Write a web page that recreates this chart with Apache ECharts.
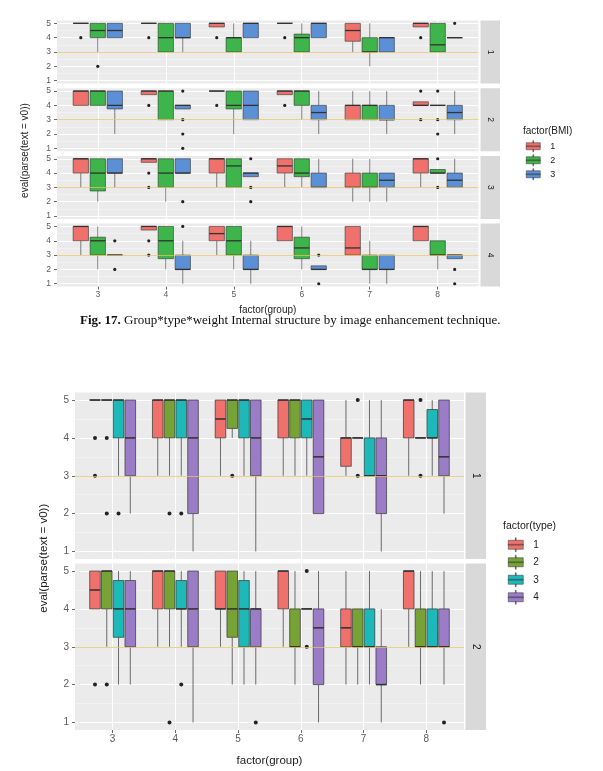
<!DOCTYPE html>
<html>
<head>
<meta charset="utf-8">
<title>Fig. 17</title>
<script src="https://cdn.jsdelivr.net/npm/echarts@6/dist/echarts.min.js"></script>
<style>
  html, body { margin: 0; padding: 0; background: #fff; }
  #chart { width: 603px; height: 771px; }
</style>
</head>
<body>
<div id="chart"></div>
<script>
// x categories, factor(group)
const groups = ['3', '4', '5', '6', '7', '8'];
const yTicks = [1, 2, 3, 4, 5];
const refValue = 3;

// ---- top figure: factor(BMI), 4 facets ----
const bmiNames = ['1', '2', '3'];
const bmiColors = ['#F0716C', '#3DB54A', '#5B8FD6'];
const bmiFacets = ['1', '2', '3', '4'];

// boxes per group: [min, q1, median, q3, max]
const bmiBox1 = [
  [[5, 5, 5, 5, 5], [5, 5, 5, 5, 5], [4.75, 4.75, 5, 5, 5], [5, 5, 5, 5, 5], [3, 3.75, 4.5, 5, 5], [4.75, 4.75, 5, 5, 5]],
  [[3, 4, 4.5, 5, 5], [3, 3, 4, 5, 5], [3, 3, 4, 4, 5], [3, 3, 4, 4.25, 5], [2, 3, 3, 4, 5], [3, 3, 3.5, 5, 5]],
  [[4, 4, 4.5, 5, 5], [3, 4, 4, 5, 5], [4, 4, 5, 5, 5], [4, 4, 5, 5, 5], [3, 3, 4, 4, 4], [4, 4, 4, 4, 4]]
];
const bmiBox2 = [
  [[4, 4, 5, 5, 5], [4.75, 4.75, 5, 5, 5], [5, 5, 5, 5, 5], [4.75, 4.75, 5, 5, 5], [3, 3, 4, 4, 5], [4, 4, 4, 4.25, 4.25]],
  [[4, 4, 5, 5, 5], [3, 3, 5, 5, 5], [2, 3.75, 4, 5, 5], [3, 4, 5, 5, 5], [3, 3, 4, 4, 5], [4, 4, 4, 4, 4]],
  [[2, 3.75, 4, 5, 5], [3.75, 3.75, 4, 4, 4], [3, 3, 4, 5, 5], [2, 3, 3.5, 4, 5], [2, 3, 3, 4, 5], [2, 3, 3.5, 4, 5]]
];
const bmiBox3 = [
  [[3, 4, 5, 5, 5], [4.75, 4.75, 5, 5, 5], [3, 4, 5, 5, 5], [3, 4, 4.5, 5, 5], [2, 3, 3, 4, 5], [3, 4, 5, 5, 5]],
  [[2, 2.75, 4, 5, 5], [2, 3, 4, 5, 5], [3, 3, 4.5, 5, 5], [3, 3.75, 4, 5, 5], [2, 3, 3, 4, 5], [4, 4, 4, 4.25, 4.25]],
  [[3, 4, 4, 5, 5], [4, 4, 4, 5, 5], [3.75, 3.75, 4, 4, 4], [3, 3, 3, 4, 5], [2, 3, 3.5, 4, 4], [3, 3, 3.5, 4, 5]]
];
const bmiBox4 = [
  [[3, 4, 5, 5, 5], [4.75, 4.75, 5, 5, 5], [3, 4, 4.5, 5, 5], [4, 4, 5, 5, 5], [3, 3, 3.5, 5, 5], [4, 4, 5, 5, 5]],
  [[2, 3, 4, 4.25, 5], [2, 2.75, 4, 5, 5], [2, 3, 4, 5, 5], [2, 2.75, 3.5, 4.25, 5], [1, 2, 2, 3, 4], [2, 3, 3, 4, 4]],
  [[3, 3, 3, 3, 3], [1, 2, 2, 3, 4], [1, 2, 2, 3, 4], [2, 2, 2, 2.25, 2.25], [1, 2, 2, 3, 3], [2.75, 2.75, 3, 3, 3]]
];
// outliers: [group index, value]
const bmiOut1 = [[[0, 4], [1, 4], [2, 4], [3, 4], [5, 4]], [[0, 2]], [[5, 5]]];
const bmiOut2 = [[[1, 4], [2, 4], [3, 4], [5, 5], [5, 3]], [[5, 5], [5, 3], [5, 2]], [[1, 5], [1, 3], [1, 2], [1, 1]]];
const bmiOut3 = [[[1, 4], [1, 3]], [[5, 5], [5, 3]], [[1, 2], [2, 5], [2, 3], [2, 2]]];
const bmiOut4 = [[[1, 4], [1, 3]], [], [[0, 4], [0, 2], [1, 5], [3, 3], [3, 1], [5, 2], [5, 1]]];

// ---- bottom figure: factor(type), 2 facets ----
const typeNames = ['1', '2', '3', '4'];
const typeColors = ['#F0716C', '#77A336', '#1DB9B9', '#9B7DC7'];
const typeFacets = ['1', '2'];

const typeBox1 = [
  [[5, 5, 5, 5, 5], [3, 4, 5, 5, 5], [3, 4, 4.5, 5, 5], [3, 4, 5, 5, 5], [3, 3.25, 4, 4, 5], [3, 4, 5, 5, 5]],
  [[5, 5, 5, 5, 5], [3, 4, 5, 5, 5], [4, 4.25, 5, 5, 5], [3, 4, 5, 5, 5], [4, 4, 4, 4, 4], [4, 4, 4, 4, 4]],
  [[3, 4, 5, 5, 5], [3, 4, 5, 5, 5], [3, 4, 5, 5, 5], [3, 4, 4.5, 5, 5], [3, 3, 3, 4, 5], [3, 4, 4, 4.75, 5]],
  [[2, 3, 4, 5, 5], [1, 2, 4, 5, 5], [1, 3, 4, 5, 5], [2, 2, 3.5, 5, 5], [1, 2, 3, 4, 5], [2, 3, 3.5, 5, 5]]
];
const typeBox2 = [
  [[4, 4, 4.5, 5, 5], [3, 4, 5, 5, 5], [3, 4, 4, 5, 5], [3, 4, 5, 5, 5], [2, 3, 3.5, 4, 5], [3, 4, 5, 5, 5]],
  [[3, 4, 5, 5, 5], [3, 4, 5, 5, 5], [2, 3.25, 4, 5, 5], [2, 3, 3, 4, 5], [2, 3, 3, 4, 4], [2, 3, 3, 4, 5]],
  [[2, 3.25, 4, 4.75, 5], [3, 4, 4, 4.75, 5], [2, 3, 4, 4.75, 5], [4, 4, 4, 4, 4], [2, 3, 3, 4, 5], [3, 3, 3, 4, 5]],
  [[2, 3, 4, 4.75, 5], [1, 3, 4, 5, 5], [2, 3, 4, 4, 5], [1, 2, 3.5, 4, 5], [1, 2, 2, 3, 4], [2, 3, 3, 4, 5]]
];
const typeOut1 = [[[0, 4], [0, 3]], [[0, 4], [0, 2], [1, 2], [2, 3], [4, 5], [4, 3], [5, 5], [5, 3]], [[0, 2], [1, 2]], []];
const typeOut2 = [[[0, 2]], [[0, 2], [1, 1]], [[1, 2], [3, 5], [3, 3]], [[2, 1], [5, 1]]];

const FONT = 'Liberation Sans';
const DODGE = 0.75;
// legend keys drawn like a small boxplot: box, whisker stubs, median
const BMI_KEY = 'path://M0,2H14V9H0Z M6.6,0H7.4V2H6.6Z M6.6,9H7.4V11H6.6Z M0,5.1H14V5.9H0Z';
const TYPE_KEY = 'path://M0,2.5H15V11.5H0Z M7.1,0H7.9V2.5H7.1Z M7.1,11.5H7.9V14H7.1Z M0,6.6H15V7.4H0Z';

// panel layout (px)
const topFig = { left: 57, width: 421.5, tops: [20.5, 88.2, 155.9, 223.6], height: 63, stripX: 480.5, stripW: 19.5, font: 8.5, nameGap: 19 };
const botFig = { left: 75, width: 389, tops: [392.5, 563.5], height: 166.5, stripX: 465.5, stripW: 20.5, font: 10, nameGap: 25 };

const grids = [], xAxes = [], yAxes = [], series = [], graphics = [];

function boxSeries(name, color, k, n, boxes, ax, lw) {
  return {
    type: 'custom', name: name, xAxisIndex: ax, yAxisIndex: ax, z: 2,
    itemStyle: { color: color },
    encode: { x: 0, y: [1, 2, 3, 4, 5] },
    data: boxes.map((b, i) => [i].concat(b)),
    renderItem: function (params, api) {
      const i = api.value(0);
      const slot = api.size([1, 0])[0] * DODGE / n;
      const cx = api.coord([i, 0])[0] + (k - (n - 1) / 2) * slot;
      const half = slot * 0.45;
      const y = [1, 2, 3, 4, 5].map(d => api.coord([i, api.value(d)])[1]);
      const line = (x1, y1, x2, y2, w) => ({
        type: 'line', shape: { x1: x1, y1: y1, x2: x2, y2: y2 },
        style: { stroke: '#333', lineWidth: w }
      });
      return {
        type: 'group',
        children: [
          line(cx, y[0], cx, y[1], lw),
          line(cx, y[3], cx, y[4], lw),
          {
            type: 'rect',
            shape: { x: cx - half, y: y[3], width: half * 2, height: y[1] - y[3] },
            style: { fill: color, stroke: '#333', lineWidth: lw }
          },
          line(cx - half, y[2], cx + half, y[2], lw * 2.2)
        ]
      };
    }
  };
}

function outlierSeries(name, k, n, pts, ax, r) {
  return {
    type: 'custom', name: name, xAxisIndex: ax, yAxisIndex: ax, z: 3,
    encode: { x: 0, y: 1 },
    data: pts,
    renderItem: function (params, api) {
      const slot = api.size([1, 0])[0] * DODGE / n;
      const p = api.coord([api.value(0), api.value(1)]);
      return {
        type: 'circle',
        shape: { cx: p[0] + (k - (n - 1) / 2) * slot, cy: p[1], r: r },
        style: { fill: '#222' }
      };
    }
  };
}

function addFigure(fig, prefix, names, colors, facets, boxSets, outSets, lw, r) {
  const n = names.length;
  facets.forEach((facet, p) => {
    const ax = grids.length;
    const last = p === facets.length - 1;
    grids.push({
      left: fig.left, top: fig.tops[p], width: fig.width, height: fig.height,
      show: true, backgroundColor: '#EBEBEB', borderWidth: 0
    });
    xAxes.push({
      gridIndex: ax, type: 'value', min: -0.6, max: 5.6,
      axisLine: { show: false, onZero: false },
      axisTick: { show: last, length: 3, customValues: [0, 1, 2, 3, 4, 5], lineStyle: { color: '#444', width: 0.8 } },
      axisLabel: {
        show: last, customValues: [0, 1, 2, 3, 4, 5], margin: 4,
        color: '#5A5A5A', fontSize: fig.font, fontFamily: FONT,
        formatter: v => Number.isInteger(v) && groups[v] ? groups[v] : ''
      },
      splitLine: { show: true, lineStyle: { color: '#fff', width: 1 } },
      name: last ? 'factor(group)' : '',
      nameLocation: 'middle', nameGap: fig.nameGap,
      nameTextStyle: { color: '#222', fontSize: fig.font + 1.5, fontFamily: FONT }
    });
    yAxes.push({
      gridIndex: ax, type: 'value', min: 0.8, max: 5.2,
      axisLine: { show: false, onZero: false },
      axisTick: { show: true, length: 3, customValues: yTicks, lineStyle: { color: '#444', width: 0.8 } },
      minorTick: { show: false, splitNumber: 2 },
      axisLabel: {
        customValues: yTicks, margin: 6, color: '#5A5A5A', fontSize: fig.font, fontFamily: FONT,
        formatter: v => yTicks.indexOf(v) >= 0 ? String(v) : ''
      },
      splitLine: { show: true, lineStyle: { color: '#fff', width: 1 } },
      minorSplitLine: { show: true, lineStyle: { color: '#F7F7F7', width: 0.6 } }
    });
    names.forEach((nm, k) => {
      const sName = prefix + ':' + nm;
      series.push(boxSeries(sName, colors[k], k, n, boxSets[p][k], ax, lw));
      const os = outlierSeries(sName, k, n, outSets[p][k], ax, r);
      if (k === n - 1) {
        // reference line at y = 3, drawn over the boxes
        os.markLine = {
          silent: true, symbol: 'none', z: 5, animation: false,
          label: { show: false },
          lineStyle: { color: '#E6C35E', opacity: 0.75, width: 1.2, type: 'solid' },
          data: [{ yAxis: refValue }]
        };
      }
      series.push(os);
    });
    // facet strip on the right
    graphics.push({
      type: 'rect', x: fig.stripX, y: fig.tops[p],
      shape: { width: fig.stripW, height: fig.height },
      style: { fill: '#D9D9D9' }
    });
    graphics.push({
      type: 'text', x: fig.stripX + fig.stripW / 2, y: fig.tops[p] + fig.height / 2,
      rotation: -Math.PI / 2,
      style: { text: facet, fill: '#1A1A1A', font: fig.font + 'px ' + FONT, textAlign: 'center', textVerticalAlign: 'middle' }
    });
  });
  // y axis title
  const firstTop = fig.tops[0];
  const lastBottom = fig.tops[fig.tops.length - 1] + fig.height;
  graphics.push({
    type: 'text', x: prefix === 'bmi' ? 25 : 44, y: (firstTop + lastBottom) / 2 - 3,
    rotation: Math.PI / 2,
    style: {
      text: 'eval(parse(text = v0))', fill: '#222', font: (fig.font + 1.5) + 'px ' + FONT,
      textAlign: 'center', textVerticalAlign: 'middle'
    }
  });
}

addFigure(topFig, 'bmi', bmiNames, bmiColors, bmiFacets,
  [bmiBox1, bmiBox2, bmiBox3, bmiBox4], [bmiOut1, bmiOut2, bmiOut3, bmiOut4], 0.6, 1.6);
addFigure(botFig, 'type', typeNames, typeColors, typeFacets,
  [typeBox1, typeBox2], [typeOut1, typeOut2], 0.7, 2);

const chart = echarts.init(document.getElementById('chart'));
chart.setOption({
  animation: false,
  backgroundColor: '#fff',
  title: [
    {
      left: 80, top: 314, padding: 0,
      text: '{b|Fig. 17.} Group*type*weight Internal structure by image enhancement technique.',
      textStyle: {
        fontFamily: 'Liberation Serif', fontSize: 13, fontWeight: 'normal', color: '#111',
        rich: { b: { fontFamily: 'Liberation Serif', fontSize: 13, fontWeight: 'bold', color: '#111' } }
      }
    },
    { left: 523, top: 126.5, padding: 0, text: 'factor(BMI)', textStyle: { fontFamily: FONT, fontSize: 10, fontWeight: 'normal', color: '#222' } },
    { left: 503, top: 521, padding: 0, text: 'factor(type)', textStyle: { fontFamily: FONT, fontSize: 10.5, fontWeight: 'normal', color: '#222' } }
  ],
  legend: [
    {
      orient: 'vertical', left: 526, top: 140.5, padding: 0, itemWidth: 14, itemHeight: 11, itemGap: 2.5,
      icon: BMI_KEY, selectedMode: false,
      formatter: nm => nm.split(':')[1],
      textStyle: { fontFamily: FONT, fontSize: 9, color: '#222', padding: [0, 0, 0, 5] },
      data: bmiNames.map((nm, k) => ({
        name: 'bmi:' + nm,
        itemStyle: { color: bmiColors[k], borderColor: '#333', borderWidth: 0.5 }
      }))
    },
    {
      orient: 'vertical', left: 508, top: 537.5, padding: 0, itemWidth: 15, itemHeight: 14, itemGap: 3,
      icon: TYPE_KEY, selectedMode: false,
      formatter: nm => nm.split(':')[1],
      textStyle: { fontFamily: FONT, fontSize: 10, color: '#222', padding: [0, 0, 0, 5] },
      data: typeNames.map((nm, k) => ({
        name: 'type:' + nm,
        itemStyle: { color: typeColors[k], borderColor: '#333', borderWidth: 0.5 }
      }))
    }
  ],
  grid: grids,
  xAxis: xAxes,
  yAxis: yAxes,
  series: series,
  graphic: graphics
});
</script>
</body>
</html>
